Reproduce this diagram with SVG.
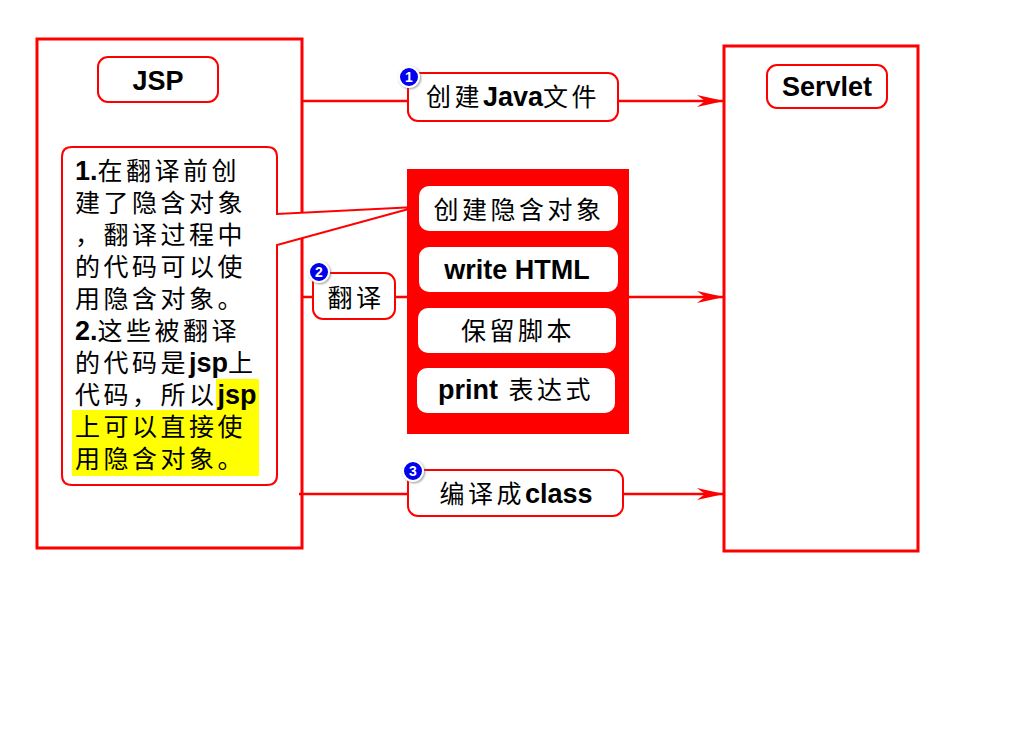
<svg xmlns="http://www.w3.org/2000/svg" width="1024" height="738" viewBox="0 0 1024 738">
<style>
  text { font-family: "Liberation Sans", "Noto Sans CJK SC", sans-serif; font-size: 25px; fill: #000; }
  .cj { letter-spacing: 3.5px; }
  .b { font-weight: bold; font-size: 27px; letter-spacing: 0px; }
  .frame { fill: #fff; stroke: #ff0000; stroke-width: 3; }
  .lbl { fill: #fff; stroke: #ff0000; stroke-width: 2; }
  .inner { fill: #fff; stroke: none; }
  .conn { fill: none; stroke: #ff0000; stroke-width: 2.5; }
  .badge { fill: #0000ee; stroke: #fff; stroke-width: 2; }
  .bnum { font-family: "Liberation Sans", sans-serif; font-size: 14px; font-weight: bold; fill: #fff; }
</style>
<defs>
  <marker id="arr" markerUnits="userSpaceOnUse" markerWidth="30" markerHeight="16" viewBox="-28 -8 30 16" refX="0" refY="0" orient="auto">
    <path d="M0,0 L-27,-6 L-19,0 L-27,6 Z" fill="#ff0000"/>
  </marker>
  <filter id="sh" x="-50%" y="-50%" width="200%" height="200%">
    <feDropShadow dx="1" dy="1" stdDeviation="1" flood-color="#666" flood-opacity="0.7"/>
  </filter>
</defs>
<rect x="0" y="0" width="1024" height="738" fill="#fff"/>

<g id="jsp">
  <rect class="frame" x="37" y="39" width="265" height="509"/>
  <rect class="lbl" x="98" y="57" width="120" height="45" rx="10"/>
  <text class="b" x="158" y="90" text-anchor="middle">JSP</text>
</g>

<g id="servlet">
  <rect class="frame" x="724" y="46" width="194" height="505"/>
  <rect class="lbl" x="767" y="65" width="120" height="43" rx="10"/>
  <text class="b" x="827" y="96" text-anchor="middle">Servlet</text>
</g>

<g id="connectors">
  <path class="conn" d="M302,101 H724" marker-end="url(#arr)"/>
  <path class="conn" d="M302,297 H724" marker-end="url(#arr)"/>
  <path class="conn" d="M299,494 H724" marker-end="url(#arr)"/>
</g>

<g id="step1">
  <rect class="lbl" x="408" y="73" width="210" height="48" rx="10"/>
  <text x="513" y="106" text-anchor="middle"><tspan class="cj">创建</tspan><tspan class="b">Java</tspan><tspan class="cj">文件</tspan></text>
  <circle class="badge" cx="409" cy="77" r="10" filter="url(#sh)"/>
  <text class="bnum" x="409" y="82" text-anchor="middle">1</text>
</g>

<g id="step2">
  <rect class="lbl" x="313" y="273" width="82" height="46" rx="10"/>
  <text class="cj" x="356" y="307" text-anchor="middle">翻译</text>
  <circle class="badge" cx="319" cy="272" r="10" filter="url(#sh)"/>
  <text class="bnum" x="319" y="277" text-anchor="middle">2</text>
</g>

<g id="translation">
  <rect x="407" y="169" width="222" height="265" fill="#ff0000"/>
  <rect class="inner" x="419" y="186" width="199" height="45" rx="10"/>
  <text class="cj" x="519" y="219" text-anchor="middle">创建隐含对象</text>
  <rect class="inner" x="419" y="247" width="199" height="45" rx="10"/>
  <text class="b" x="517" y="279" text-anchor="middle">write HTML</text>
  <rect class="inner" x="418" y="308" width="198" height="45" rx="10"/>
  <text class="cj" x="518" y="340" text-anchor="middle">保留脚本</text>
  <rect class="inner" x="417" y="368" width="198" height="45" rx="10"/>
  <text x="516" y="399" text-anchor="middle"><tspan class="b">print</tspan><tspan class="cj"> 表达式</tspan></text>
</g>

<g id="step3">
  <rect class="lbl" x="408" y="470" width="215" height="46" rx="10"/>
  <text x="516" y="503" text-anchor="middle"><tspan class="cj">编译成</tspan><tspan class="b">class</tspan></text>
  <circle class="badge" cx="413" cy="471" r="10" filter="url(#sh)"/>
  <text class="bnum" x="413" y="476" text-anchor="middle">3</text>
</g>

<g id="note">
  <path class="lbl" d="M72,147 H267 Q277,147 277,157 V214 L416,207 L277,245 V475 Q277,485 267,485 H72 Q62,485 62,475 V157 Q62,147 72,147 Z"/>
  <rect x="216" y="379" width="43" height="31" fill="#ffff00"/>
  <rect x="72" y="410" width="187" height="66" fill="#ffff00"/>
  <text class="cj" x="75" y="180"><tspan class="b">1.</tspan>在翻译前创</text>
  <text class="cj" x="75" y="212">建了隐含对象</text>
  <text class="cj" x="75" y="244">，翻译过程中</text>
  <text class="cj" x="75" y="276">的代码可以使</text>
  <text class="cj" x="75" y="308">用隐含对象。</text>
  <text class="cj" x="75" y="340"><tspan class="b">2.</tspan>这些被翻译</text>
  <text class="cj" x="75" y="372">的代码是<tspan class="b">jsp</tspan>上</text>
  <text class="cj" x="75" y="404">代码，所以<tspan class="b">jsp</tspan></text>
  <text class="cj" x="75" y="436">上可以直接使</text>
  <text class="cj" x="75" y="468">用隐含对象。</text>
</g>
</svg>
